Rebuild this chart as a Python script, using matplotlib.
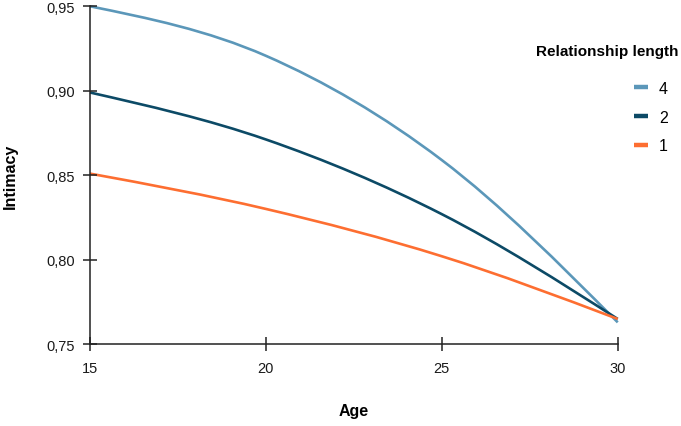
import matplotlib
matplotlib.use('Agg')
from matplotlib import pyplot as plt
from matplotlib.path import Path
from matplotlib.patches import PathPatch
from matplotlib.lines import Line2D
from matplotlib.ticker import FuncFormatter
import numpy as np

plt.rcParams['font.family'] = ['Liberation Sans', 'DejaVu Sans']

# values
age = [15, 20, 25, 30]
len_4 = [0.950, 0.9207, 0.8590, 0.763]
len_2 = [0.899, 0.8712, 0.8270, 0.765]
len_1 = [0.851, 0.8301, 0.8021, 0.765]

series_labels = ['4', '2', '1']
series_colors = ['#5b97b9', '#0c4a66', '#fd6e31']


def monotone_path(xs, ys):
    """Bezier path through the points, same idea as d3 curveMonotoneX."""
    x = np.asarray(xs, float)
    y = np.asarray(ys, float)
    n = len(x)
    h = np.diff(x)
    s = np.diff(y) / h
    t = np.zeros(n)
    for i in range(1, n - 1):
        p = (s[i - 1] * h[i] + s[i] * h[i - 1]) / (h[i - 1] + h[i])
        t[i] = (np.sign(s[i - 1]) + np.sign(s[i])) * min(abs(s[i - 1]), abs(s[i]), 0.5 * abs(p))
    t[0] = (3 * s[0] - t[1]) / 2
    t[-1] = (3 * s[-1] - t[-2]) / 2
    verts = [(x[0], y[0])]
    codes = [Path.MOVETO]
    for i in range(n - 1):
        d = h[i] / 3
        verts += [(x[i] + d, y[i] + d * t[i]), (x[i + 1] - d, y[i + 1] - d * t[i + 1]), (x[i + 1], y[i + 1])]
        codes += [Path.CURVE4] * 3
    return Path(verts, codes)


fig = plt.figure(figsize=(6.81, 4.27), dpi=100)
ax = fig.add_axes([0.1322, 0.1913, 0.7749, 0.7916])

handles = []
for vals, lab, col in zip([len_4, len_2, len_1], series_labels, series_colors):
    patch = PathPatch(monotone_path(age, vals), facecolor='none', edgecolor=col, lw=1.9,
                      clip_on=False, capstyle='butt')
    ax.add_patch(patch)
    handles.append(Line2D([], [], color=col, lw=3.2, solid_capstyle='butt'))

ax.set_xlim(15, 30)
ax.set_ylim(0.75, 0.95)
ax.set_xticks([15, 20, 25, 30])
ax.set_yticks([0.75, 0.80, 0.85, 0.90, 0.95])
ax.yaxis.set_major_formatter(FuncFormatter(lambda v, p: f'{v:.2f}'.replace('.', ',')))

for side in ['top', 'right']:
    ax.spines[side].set_visible(False)
for side in ['left', 'bottom']:
    ax.spines[side].set_color('#222222')
    ax.spines[side].set_linewidth(1.1)
ax.tick_params(direction='inout', length=10, width=1.1, color='#222222',
               labelsize=10.5, labelcolor='#1a1a1a')
ax.tick_params(axis='y', pad=6)
ax.tick_params(axis='x', pad=7)

ax.set_xlabel('Age', fontsize=11.5, fontweight='bold')
ax.set_ylabel('Intimacy', fontsize=11.5, fontweight='bold')
ax.xaxis.set_label_coords(0.5, -0.175)
ax.yaxis.set_label_coords(-0.136, 0.5)

fig.text(678 / 681, 1 - 52 / 427, 'Relationship length', ha='right', va='center',
         fontsize=11, fontweight='bold')
leg = ax.legend(handles=handles, labels=series_labels,
                loc='upper left', bbox_to_anchor=(634 / 681, 1 - 82 / 427),
                bbox_transform=fig.transFigure, borderaxespad=0, borderpad=0,
                frameon=False, fontsize=11.5, handlelength=0.85, handletextpad=0.7,
                labelspacing=0.85)

fig.savefig('out.png', dpi=100)
